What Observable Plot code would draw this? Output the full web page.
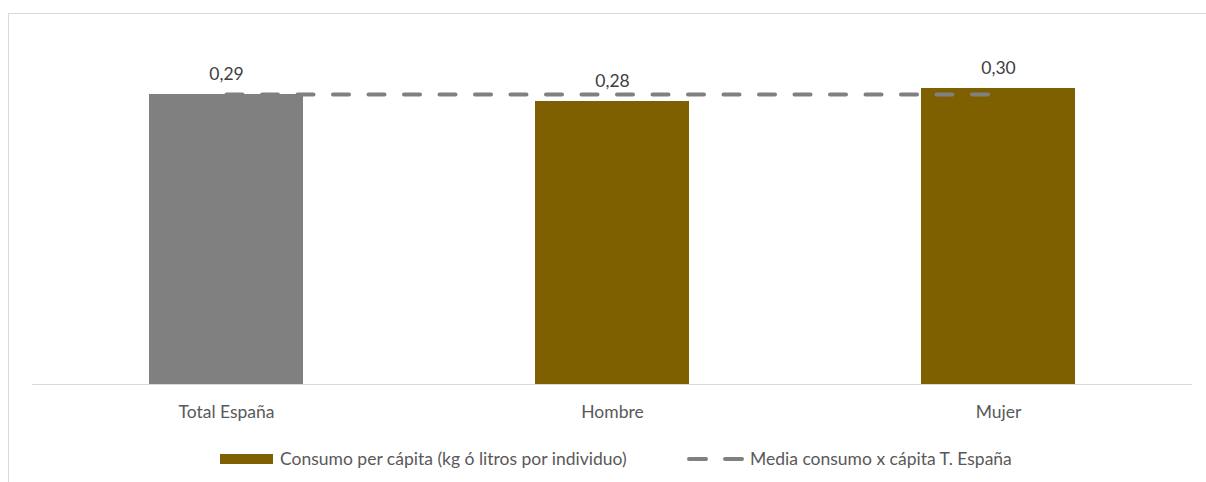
<!DOCTYPE html>
<html>
<head>
<meta charset="utf-8">
<script src="https://cdn.jsdelivr.net/npm/d3@7"></script>
<script src="https://cdn.jsdelivr.net/npm/@observablehq/plot@0.6"></script>
<style>
  html, body { margin: 0; padding: 0; background: #fff; overflow: hidden; width: 1206px; height: 482px; }
  body { position: relative; font-family: Lato, "Open Sans", sans-serif; }
  #frame { position: absolute; left: 8px; top: 13px; width: 1400px; height: 700px; border: 1px solid #d9d9d9; z-index: 5; pointer-events: none; }
  #chart { position: absolute; left: 0; top: 0; }
  #legend { position: absolute; left: 0; top: 430px; width: 1206px; height: 52px; font-size: 17.5px; color: #595959; }
  .item { position: absolute; top: 18px; height: 20px; display: flex; align-items: center; white-space: nowrap; }
</style>
</head>
<body>
<div id="frame"></div>
<div id="chart"></div>
<div id="legend"></div>
<script>
const categories = ["Total España", "Hombre", "Mujer"];
const values = [0.290, 0.283, 0.296];
const barColors = ["#808080", "#7F6000", "#7F6000"];
const mediaTotal = 0.29;
const seriesNames = ["Consumo per cápita (kg ó litros por individuo)", "Media consumo x cápita T. España"];

const data = categories.map((c, i) => ({cat: c, value: values[i], color: barColors[i]}));
const lineData = [categories[0], categories[categories.length - 1]].map(c => ({cat: c, value: mediaTotal}));
const fmt = v => v.toFixed(2).replace(".", ",");

const plot = Plot.plot({
  width: 1206,
  height: 430,
  marginLeft: 32,
  marginRight: 14,
  marginTop: 34,
  marginBottom: 46,
  style: {background: "transparent", fontFamily: "Lato, 'Open Sans', sans-serif", fontSize: "17.5px", color: "#595959"},
  x: {domain: categories, paddingInner: 0.6, paddingOuter: 0.3, label: null},
  y: {domain: [0, 0.35], axis: null},
  marks: [
    Plot.barY(data, {x: "cat", y: "value", fill: "color"}),
    Plot.ruleY([0], {stroke: "#d9d9d9", strokeWidth: 1}),
    Plot.line(lineData, {x: "cat", y: "value", stroke: "#808080", strokeWidth: 4, strokeDasharray: "16,19.5", strokeLinecap: "round"}),
    Plot.text(data, {x: "cat", y: "value", text: d => fmt(d.value), dy: -20, fill: "#404040", fontSize: 17.5}),
    Plot.axisX({tickSize: 0, tickPadding: 21, fontSize: 17.5, fill: "#595959", label: null})
  ]
});
document.getElementById("chart").appendChild(plot);

const legend = document.getElementById("legend");
legend.innerHTML = `
  <div class="item" style="left:220px;">
    <span style="display:inline-block;width:53px;height:10px;background:${barColors[1]};margin-right:7px;position:relative;top:1px;"></span>${seriesNames[0]}
  </div>
  <div class="item" style="left:685px;">
    <svg width="60" height="10" style="margin-right:5px;position:relative;top:1px;"><line x1="4" y1="5" x2="57" y2="5" stroke="#808080" stroke-width="4" stroke-linecap="round" stroke-dasharray="17,19"/></svg>${seriesNames[1]}
  </div>`;
</script>
</body>
</html>
